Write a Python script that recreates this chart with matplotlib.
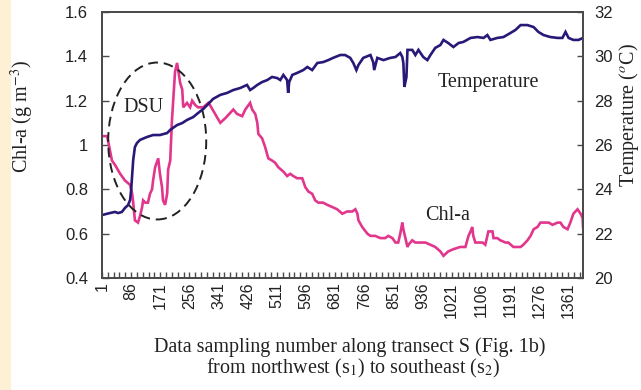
import matplotlib
matplotlib.use("Agg")
import matplotlib.pyplot as plt
from matplotlib.patches import Ellipse, Rectangle
from matplotlib.ticker import FixedLocator, FuncFormatter

# Fontes: serifada para textos, sem serifa para os números dos eixos
plt.rcParams['font.family'] = ['Liberation Serif', 'DejaVu Serif']
plt.rcParams['mathtext.fontset'] = 'stix'

# Clorofila-a ao longo do transecto (número da amostra, g m-3)
amostra_chl = [1, 16, 21, 30, 39, 54, 68, 83, 89, 92, 97, 106, 112, 118, 121, 127, 135, 141, 147, 150,
               156, 165, 170, 176, 179, 185, 191, 194, 200, 205, 214, 220, 229, 235, 238, 249, 258, 264, 273, 281,
               296, 311, 316, 331, 346, 360, 384, 395, 410, 419, 433, 439, 448, 454, 457, 468, 477, 486, 497, 506,
               515, 530, 541, 550, 559, 570, 585, 594, 603, 614, 623, 632, 646, 658, 673, 687, 702, 716, 731, 740,
               746, 749, 760, 775, 784, 798, 813, 827, 836, 848, 857, 865, 871, 877, 880, 886, 892, 895, 906, 915,
               930, 944, 959, 973, 988, 997, 1011, 1026, 1046, 1061, 1070, 1076, 1081, 1084, 1090, 1099, 1111, 1119, 1125, 1128,
               1140, 1143, 1154, 1163, 1178, 1186, 1201, 1213, 1222, 1230, 1242, 1251, 1260, 1271, 1280, 1295, 1304, 1315, 1330, 1338,
               1347, 1359, 1367, 1376, 1388, 1397, 1403, 1404]
chl = [1.04, 1.04, 1.00, 0.93, 0.91, 0.87, 0.84, 0.82, 0.78, 0.74, 0.66, 0.65, 0.68, 0.72, 0.75, 0.74, 0.74, 0.78, 0.80, 0.84,
       0.90, 0.94, 0.87, 0.81, 0.75, 0.73, 0.78, 0.89, 0.93, 1.11, 1.33, 1.37, 1.28, 1.25, 1.17, 1.19, 1.17, 1.20, 1.18, 1.17,
       1.17, 1.19, 1.18, 1.14, 1.10, 1.12, 1.16, 1.14, 1.13, 1.16, 1.19, 1.16, 1.14, 1.10, 1.05, 1.03, 0.99, 0.94, 0.93, 0.92,
       0.90, 0.88, 0.86, 0.87, 0.86, 0.85, 0.85, 0.81, 0.79, 0.78, 0.75, 0.74, 0.74, 0.73, 0.72, 0.71, 0.69, 0.70, 0.70, 0.71,
       0.69, 0.66, 0.63, 0.60, 0.59, 0.59, 0.58, 0.58, 0.59, 0.58, 0.56, 0.56, 0.60, 0.65, 0.62, 0.58, 0.54, 0.55, 0.57, 0.56,
       0.56, 0.56, 0.55, 0.54, 0.52, 0.50, 0.52, 0.53, 0.54, 0.54, 0.59, 0.61, 0.63, 0.59, 0.56, 0.56, 0.56, 0.55, 0.59, 0.61,
       0.61, 0.58, 0.58, 0.57, 0.56, 0.56, 0.54, 0.54, 0.54, 0.55, 0.57, 0.59, 0.62, 0.63, 0.65, 0.65, 0.65, 0.64, 0.65, 0.65,
       0.63, 0.62, 0.65, 0.69, 0.71, 0.69, 0.67, 0.63]

# Temperatura ao longo do transecto (número da amostra, graus C)
amostra_temp = [1, 24, 39, 48, 59, 68, 77, 83, 86, 89, 92, 97, 103, 112, 132, 150, 170, 191, 200, 208,
                220, 235, 249, 267, 281, 296, 311, 325, 346, 366, 384, 404, 424, 433, 442, 454, 468, 483, 497, 512,
                521, 530, 541, 544, 547, 556, 570, 588, 600, 614, 629, 646, 661, 675, 696, 710, 725, 734, 743, 749,
                763, 784, 792, 795, 804, 822, 842, 857, 871, 877, 880, 883, 889, 892, 906, 915, 924, 930, 938, 950,
                959, 973, 988, 997, 1011, 1026, 1041, 1055, 1076, 1096, 1114, 1125, 1134, 1154, 1172, 1192, 1207, 1222, 1242, 1260,
                1274, 1289, 1309, 1330, 1344, 1353, 1362, 1376, 1391, 1404]
temperatura = [22.84, 22.93, 22.98, 22.93, 22.98, 23.16, 23.29, 23.52, 23.97, 24.65, 25.32, 25.91, 26.09, 26.23, 26.36, 26.45, 26.45, 26.54, 26.68, 26.77,
               26.90, 26.99, 27.13, 27.26, 27.44, 27.62, 27.85, 28.08, 28.26, 28.35, 28.48, 28.57, 28.71, 28.48, 28.57, 28.71, 28.84, 28.93, 29.07, 29.02,
               28.93, 29.16, 28.93, 28.35, 28.84, 29.16, 29.25, 29.38, 29.52, 29.38, 29.70, 29.74, 29.83, 29.93, 30.06, 30.06, 29.93, 29.70, 29.38, 29.61,
               29.93, 30.06, 29.74, 29.38, 29.93, 29.83, 29.93, 29.97, 30.15, 29.97, 29.70, 28.62, 29.07, 30.29, 30.29, 30.06, 30.29, 30.15, 29.97, 29.83,
               30.06, 30.38, 30.51, 30.74, 30.60, 30.42, 30.60, 30.65, 30.83, 30.87, 30.83, 30.96, 30.74, 30.83, 30.87, 31.05, 31.19, 31.41, 31.41, 31.32,
               31.10, 30.96, 30.87, 30.83, 30.83, 31.10, 30.83, 30.74, 30.74, 30.83]

# Rótulos do eixo x (a cada 85 amostras) e marcas menores (a cada 17)
rotulos_x = list(range(1, 1362, 85))
marcas_x = list(range(1, 1405, 17))
ticks_chl = [0.4, 0.6, 0.8, 1.0, 1.2, 1.4, 1.6]
ticks_temp = [20, 22, 24, 26, 28, 30, 32]

COR_CHL = '#e2368c'
COR_TEMP = '#2a1878'
COR_EIXO = '#4a4a4a'
FONTE_NUM = 'Liberation Sans'

fig = plt.figure(figsize=(6.41, 3.90), dpi=100)
fig.patches.append(Rectangle((0, 0), 11 / 641, 1, transform=fig.transFigure,
                             facecolor='#fdf0d5', edgecolor='none', zorder=0))

ax = fig.add_axes([102 / 641, 1 - 278 / 390, 481 / 641, 266 / 390])
ax2 = ax.twinx()

ax.plot(amostra_chl, chl, color=COR_CHL, lw=1.9, solid_joinstyle='miter')
ax2.plot(amostra_temp, temperatura, color=COR_TEMP, lw=1.9, solid_joinstyle='miter')

ax.set_xlim(1, 1404)
ax.set_ylim(0.4, 1.6)
ax2.set_ylim(20, 32)

# Eixo x: números das amostras na vertical
ax.xaxis.set_major_locator(FixedLocator(rotulos_x))
ax.xaxis.set_minor_locator(FixedLocator(marcas_x))
ax.set_xticklabels([str(v) for v in rotulos_x], rotation=90, fontfamily=FONTE_NUM,
                   fontsize=11.5, color='#222222')
ax.tick_params(axis='x', which='both', direction='in', length=4, width=1.0,
               color=COR_EIXO, pad=3)

ax.set_yticks(ticks_chl)
ax.yaxis.set_major_formatter(FuncFormatter(lambda v, p: '%g' % round(v, 1)))
ax.tick_params(axis='y', direction='in', length=5, width=1.0, color=COR_EIXO,
               labelsize=12, pad=10, labelcolor='#222222')
for t in ax.get_yticklabels():
    t.set_fontfamily(FONTE_NUM)

ax2.set_yticks(ticks_temp)
ax2.tick_params(axis='y', direction='in', length=4, width=1.0, color=COR_EIXO,
                labelsize=12, pad=8, labelcolor='#222222')
for t in ax2.get_yticklabels():
    t.set_fontfamily(FONTE_NUM)

for a in (ax, ax2):
    for s in a.spines.values():
        s.set_color(COR_EIXO)
        s.set_linewidth(1.3)

# Elipse tracejada marcando a região DSU
ax.add_patch(Ellipse((162, 1.018), 286, 0.708, fill=False, ls=(0, (5, 3)),
                     lw=1.4, color='#222222', zorder=3))
ax.text(121, 1.171, 'DSU', fontsize=14.5, ha='center', va='center', color='#222222')
ax2.text(979, 28.8, 'Temperature', fontsize=14.5, ha='left', va='center', color='#222222')
ax.text(1008, 0.684, 'Chl-a', fontsize=14.5, ha='center', va='center', color='#222222')

# Títulos dos eixos
fig.text(22 / 641, 1 - 117 / 390, 'Chl-a (g m$^{-3}$)', rotation=90, fontsize=14.5,
         ha='center', va='center', color='#222222')
fig.text(629 / 641, 1 - 115 / 390, 'Temperature ($^{o}$C)', rotation=90, fontsize=14.5,
         ha='center', va='center', color='#222222')
fig.text(350 / 641, 1 - 352 / 390, 'Data sampling number along transect S (Fig. 1b)',
         fontsize=14.5, ha='center', va='baseline', color='#222222')
fig.text(353 / 641, 1 - 373 / 390, 'from northwest (s$_1$) to southeast (s$_2$)',
         fontsize=14.5, ha='center', va='baseline', color='#222222')

fig.savefig('out.png', dpi=100)
